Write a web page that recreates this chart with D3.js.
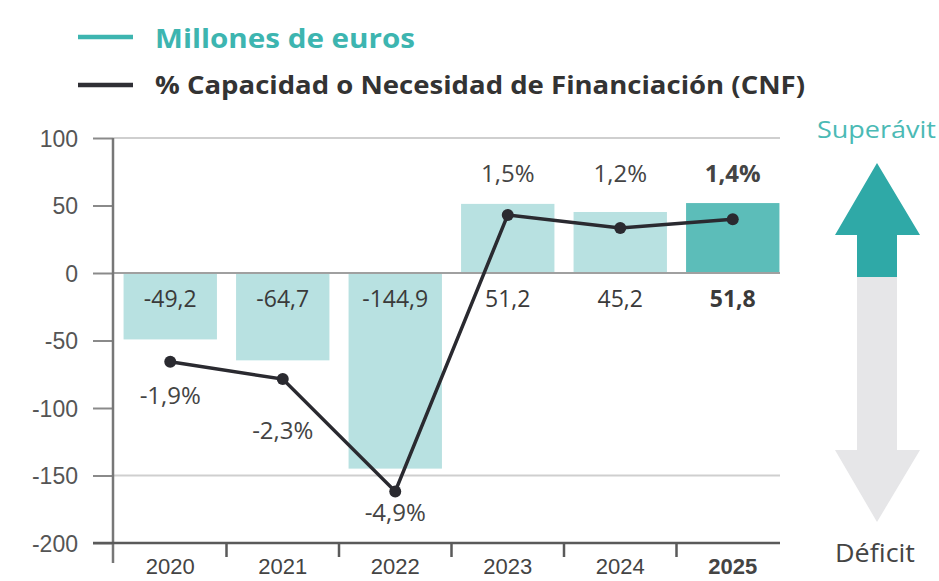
<!DOCTYPE html>
<html><head><meta charset="utf-8">
<script src="https://cdn.jsdelivr.net/npm/d3@7"></script>
<style>
html,body{margin:0;padding:0;background:#fff;}
svg{display:block;font-family:"Open Sans","Noto Sans",sans-serif;}
</style></head>
<body>
<svg id="c" width="939" height="581"></svg>
<script>
const years = ["2020","2021","2022","2023","2024","2025"];
const euros = [-49.2, -64.7, -144.9, 51.2, 45.2, 51.8];
const euroLabels = ["-49,2","-64,7","-144,9","51,2","45,2","51,8"];
const cnf = [-1.9, -2.3, -4.9, 1.5, 1.2, 1.4];
const cnfLabels = ["-1,9%","-2,3%","-4,9%","1,5%","1,2%","1,4%"];
const yTicks = [100, 50, 0, -50, -100, -150, -200];
const gridValues = [100, 0, -150];
const legendItems = ["Millones de euros", "% Capacidad o Necesidad de Financiación (CNF)"];

const svg = d3.select("#c");
const teal = "#3db5b0", lightBar = "#b8e1e1", darkBar = "#5cbdb9", lineCol = "#2a2a30";

const y = d3.scaleLinear().domain([-200, 100]).range([543, 138]);
// secondary (hidden) scale for % CNF
const y2 = d3.scaleLinear().domain([(-200 + 5) / 32, (100 + 5) / 32]).range([543, 138]);
const x = d3.scaleBand().domain(years).range([114, 789]).paddingInner(0.17).paddingOuter(0.085);
const step = x.step();

// gridlines
svg.append("g").selectAll("line").data(gridValues).join("line")
  .attr("x1", 113).attr("x2", 780)
  .attr("y1", d => y(d)).attr("y2", d => y(d))
  .attr("stroke", d => d === 0 ? "#a0a0a0" : "#cfcfcf").attr("stroke-width", 2);

// bars
svg.append("g").selectAll("rect").data(euros).join("rect")
  .attr("x", (d, i) => x(years[i]))
  .attr("width", x.bandwidth())
  .attr("y", d => Math.min(y(d), y(0) + 1))
  .attr("height", d => Math.abs(y(d) - y(0)) - 1)
  .attr("fill", (d, i) => i === years.length - 1 ? darkBar : lightBar);

// left axis
const yAxis = d3.axisLeft(y).tickValues(yTicks).tickSize(20).tickPadding(15).tickFormat(d => d);
const ga = svg.append("g").attr("transform", "translate(113,0)").call(yAxis);
ga.select(".domain").remove();
ga.selectAll(".tick line").attr("stroke", "#8a8a8a").attr("stroke-width", 2);
ga.selectAll(".tick text").attr("fill", "#555").style("font-size", "23px").attr("dy", "0.35em");
svg.append("line").attr("x1", 113).attr("x2", 113).attr("y1", y(100)).attr("y2", 563)
  .attr("stroke", "#777").attr("stroke-width", 2.5);

// bottom axis
svg.append("line").attr("x1", 93).attr("x2", 780).attr("y1", y(-200)).attr("y2", y(-200))
  .attr("stroke", "#5a5a5a").attr("stroke-width", 2.5);
const xAxis = d3.axisBottom(x).tickSize(0).tickPadding(0);
const gx = svg.append("g").attr("transform", `translate(0,${y(-200)})`).call(xAxis);
gx.select(".domain").remove();
gx.selectAll(".tick text").attr("y", 31).attr("dy", 0)
  .attr("fill", "#444").style("font-size", "22px")
  .style("font-weight", (d, i) => i === years.length - 1 ? "700" : "400");
// boundary ticks
svg.append("g").selectAll("line").data(years.slice(1)).join("line")
  .attr("x1", d => x(d) - step * 0.085).attr("x2", d => x(d) - step * 0.085)
  .attr("y1", y(-200)).attr("y2", y(-200) + 14)
  .attr("stroke", "#5a5a5a").attr("stroke-width", 2.5);

// value labels
svg.append("g").selectAll("text").data(euroLabels).join("text")
  .attr("x", (d, i) => x(years[i]) + x.bandwidth() / 2)
  .attr("y", y(0) + 34)
  .attr("text-anchor", "middle").attr("fill", "#3a3a3a")
  .style("font-size", "23px")
  .style("font-weight", (d, i) => i === years.length - 1 ? "700" : "400")
  .text(d => d);

// line
const cx = i => x(years[i]) + x.bandwidth() / 2;
svg.append("path").datum(cnf)
  .attr("d", d3.line().x((d, i) => cx(i)).y(d => y2(d)))
  .attr("fill", "none").attr("stroke", lineCol).attr("stroke-width", 3.5);
svg.append("g").selectAll("circle").data(cnf).join("circle")
  .attr("cx", (d, i) => cx(i)).attr("cy", d => y2(d)).attr("r", 6).attr("fill", lineCol);

// % labels
const negOffsets = [42, 60, 30];
svg.append("g").selectAll("text").data(cnfLabels).join("text")
  .attr("x", (d, i) => cx(i))
  .attr("y", (d, i) => cnf[i] < 0 ? y2(cnf[i]) + negOffsets[i] : y(100) + 44)
  .attr("text-anchor", "middle").attr("fill", "#444")
  .style("font-size", "24px")
  .style("font-weight", (d, i) => i === years.length - 1 ? "700" : "400")
  .text(d => d);

// legend
const lg = svg.append("g");
lg.selectAll("line").data(legendItems).join("line")
  .attr("x1", 78).attr("x2", 133)
  .attr("y1", (d, i) => 37 + i * 48).attr("y2", (d, i) => 37 + i * 48)
  .attr("stroke", (d, i) => i === 0 ? teal : "#2f2f35").attr("stroke-width", 4.5);
lg.selectAll("text").data(legendItems).join("text")
  .attr("x", 155).attr("y", (d, i) => i === 0 ? 48 : 94)
  .attr("fill", (d, i) => i === 0 ? teal : "#333")
  .style("font-size", (d, i) => i === 0 ? "27px" : "25px")
  .style("font-weight", "700")
  .attr("textLength", (d, i) => i === 0 ? 260 : 650)
  .attr("lengthAdjust", "spacingAndGlyphs")
  .text(d => d);

// side arrows
const ar = svg.append("g");
ar.append("path").attr("d", "M857,450 L857,277 L897,277 L897,450 L920,450 L877,522 L835,450 Z").attr("fill", "#e6e6e8");
ar.append("path").attr("d", "M857,277 L857,235 L835,235 L877,163 L920,235 L897,235 L897,277 Z").attr("fill", "#2fa9a7");
ar.append("text").attr("x", 817).attr("y", 138)
  .attr("fill", "#4bbab5").style("font-size", "23px")
  .attr("textLength", 119).attr("lengthAdjust", "spacingAndGlyphs").text("Superávit");
ar.append("text").attr("x", 835).attr("y", 562)
  .attr("fill", "#444").style("font-size", "25px")
  .attr("textLength", 80).attr("lengthAdjust", "spacingAndGlyphs").text("Déficit");
</script>
</body></html>
